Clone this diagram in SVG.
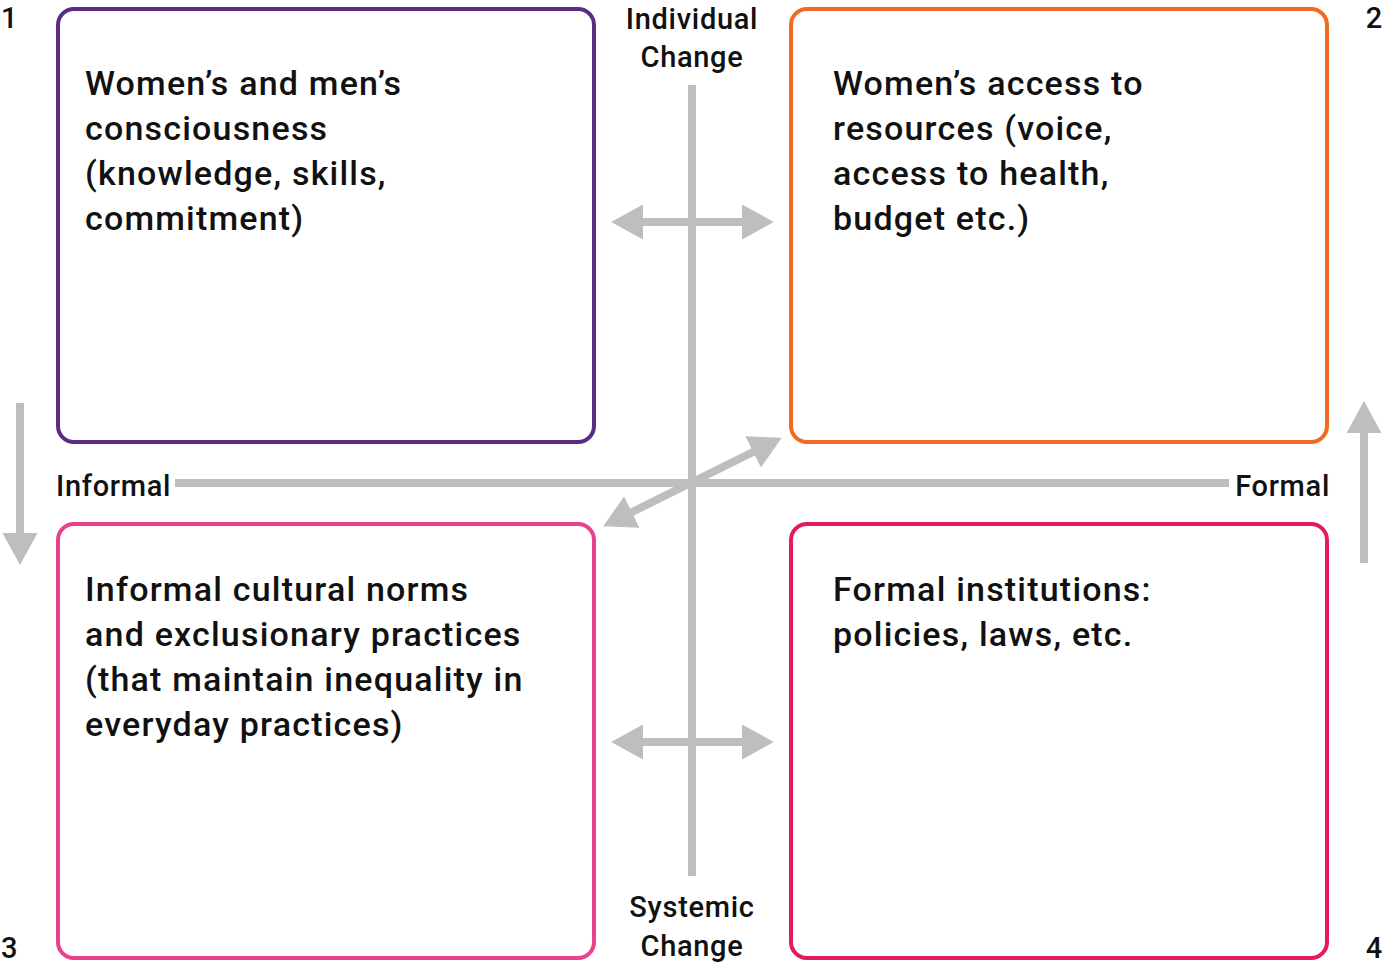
<svg xmlns="http://www.w3.org/2000/svg" width="1384" height="963" viewBox="0 0 1384 963">
<style>
.box{fill:#fff;stroke-width:4}
.t{font-family:Roboto,"Liberation Sans",sans-serif;font-weight:500;font-size:34px;fill:#111;letter-spacing:1.2px}
.s{font-family:Roboto,"Liberation Sans",sans-serif;font-weight:500;font-size:29px;fill:#111;letter-spacing:0.7px}
.ax{stroke:#bdbebf;stroke-width:8;fill:none}
</style>
<defs>
<marker id="ah" markerUnits="userSpaceOnUse" markerWidth="34" markerHeight="38" viewBox="0 -18 33 36" refX="2" refY="0" orient="auto-start-reverse">
<path d="M0,-17 L31,0 L0,17 z" fill="#bdbebf"/>
</marker>
</defs>
<rect width="1384" height="963" fill="#fff"/>
<g id="connectors">
<line class="ax" x1="692" y1="85" x2="692" y2="876"/>
<line class="ax" x1="175" y1="483" x2="1229" y2="483"/>
<line class="ax" x1="641" y1="222" x2="744" y2="222" marker-start="url(#ah)" marker-end="url(#ah)"/>
<line class="ax" x1="641" y1="742" x2="744" y2="742" marker-start="url(#ah)" marker-end="url(#ah)"/>
<line class="ax" x1="630" y1="513" x2="755" y2="451" marker-start="url(#ah)" marker-end="url(#ah)"/>
<line class="ax" x1="20" y1="403" x2="20" y2="535" marker-end="url(#ah)"/>
<line class="ax" x1="1364" y1="563" x2="1364" y2="431" marker-end="url(#ah)"/>
</g>
<g id="node1">
<rect class="box" x="58" y="9" width="536" height="433" rx="16" stroke="#5a2d82"/>
<text class="t" x="85" y="95">Women’s and men’s</text>
<text class="t" x="85" y="140">consciousness</text>
<text class="t" x="85" y="185">(knowledge, skills,</text>
<text class="t" x="85" y="230">commitment)</text>
</g>
<g id="node2">
<rect class="box" x="791" y="9" width="536" height="433" rx="16" stroke="#f26a21"/>
<text class="t" x="833" y="95">Women’s access to</text>
<text class="t" x="833" y="140">resources (voice,</text>
<text class="t" x="833" y="185">access to health,</text>
<text class="t" x="833" y="230">budget etc.)</text>
</g>
<g id="node3">
<rect class="box" x="58" y="524" width="536" height="434" rx="16" stroke="#e8418d"/>
<text class="t" x="85" y="601">Informal cultural norms</text>
<text class="t" x="85" y="646">and exclusionary practices</text>
<text class="t" x="85" y="691">(that maintain inequality in</text>
<text class="t" x="85" y="736">everyday practices)</text>
</g>
<g id="node4">
<rect class="box" x="791" y="524" width="536" height="434" rx="16" stroke="#e51a5b"/>
<text class="t" x="833" y="601">Formal institutions:</text>
<text class="t" x="833" y="646">policies, laws, etc.</text>
</g>
<g id="labels">
<text class="s" x="692" y="29" text-anchor="middle">Individual</text>
<text class="s" x="692" y="67" text-anchor="middle">Change</text>
<text class="s" x="692" y="917" text-anchor="middle">Systemic</text>
<text class="s" x="692" y="956" text-anchor="middle">Change</text>
<text class="s" x="56" y="496">Informal</text>
<text class="s" x="1330" y="496" text-anchor="end">Formal</text>
<text class="s" x="1" y="28">1</text>
<text class="s" x="1383" y="28" text-anchor="end">2</text>
<text class="s" x="1" y="958">3</text>
<text class="s" x="1383" y="958" text-anchor="end">4</text>
</g>
</svg>
